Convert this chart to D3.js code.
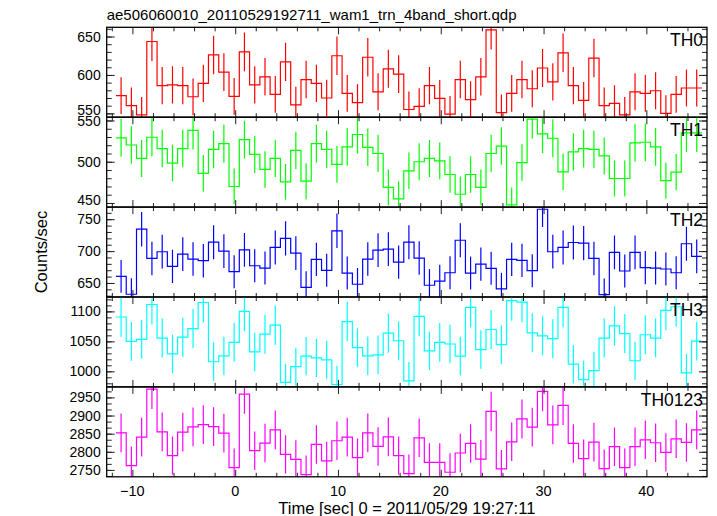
<!DOCTYPE html>
<html><head><meta charset="utf-8">
<script src="https://cdn.jsdelivr.net/npm/d3@7"></script>
<style>
body{margin:0;background:#fff;}
text{font-family:"Liberation Sans",Arial,Helvetica,sans-serif;fill:#000;}
</style></head>
<body><svg id="c" width="717" height="516"></svg>
<script>
// ---- data ----
const title = "ae506060010_20110529192711_wam1_trn_4band_short.qdp";
const xLabel = "Time [sec] 0 = 2011/05/29 19:27:11";
const yLabel = "Counts/sec";
const binStart = -11.1;   // centre of first 1-s bin
const binWidth = 1;
const xTicks = [-10, 0, 10, 20, 30, 40];
const panelNames = ["TH0", "TH1", "TH2", "TH3", "TH0123"];
const panelColors = ["#ff0000", "#00ff00", "#0000ff", "#00ffff", "#ff00ff"];
const th0 = [573,560,548,643.5,586,587,586,571.6,589,626,603.7,572,630,587,597.6,574.7,617,561,594,589,570,625,576,564,623,578,608,601,
  555,559,586,569.5,549,594,568,597.6,658.7,551,576,594,582,609,591,628.8,586,567,622,560,563,548,578,576,579.4,550,574.7,583,583];
const th1 = [528.9,520.3,504,529.7,516,498.4,516,538,486,515,522,470,526.8,509,490.7,504,475.6,513.8,476.4,522,515,496.7,518,533,517.5,510,469,455,
  489,500,504,501,484.5,460.6,484.5,469,510,519,447.6,499,551.6,533.7,528.5,487.8,512,516,515,507,479.7,479.7,522.8,523.6,518,477,487.4,535,535];
const th2 = [660.4,632.3,734.4,688.5,699,676,695.3,687.5,684.9,714,700,667.7,702,677,673.4,705.7,719.8,696.9,643,687,669.8,731.8,665.6,648,687.5,701.6,703,682.8,
  714,689,646.4,653,666,717,665.6,679.7,673,640.6,687,685.4,669.3,765.6,699,705.7,713.5,712.5,688.5,631.8,698,668.8,698,674,673.4,671.9,666,711.5,691.7];
const th3 = [1090.6,1050,1053.3,1111.5,1055.5,1029,1057,1071.4,1114.8,1016,1025.8,1048.4,1100,1032.4,1062,1077,981.4,1007.7,1025.3,1022.5,1019.2,978,1083,1039.6,1025.8,1027.5,1063.7,1051,
  984,1091.7,1034,1048.4,1045.6,1025.3,1106.6,1036.3,1069.8,1044.5,1118,1115.3,1064.3,1059.3,1054.4,1106.6,1012,986.3,1001,1055.5,1075.8,1063,1017.6,1061,1055.5,1101.6,1107.7,997.3,1050.5];
const th0123 = [2852.3,2761.9,2840.4,2972.8,2855,2789.3,2854,2868.7,2875,2869.6,2851.4,2756.4,2959,2803,2824,2860.5,2793,2779.2,2737.2,2820.3,2774.7,2830.4,2840.4,2783.8,2852.3,2814.8,2841.3,2789.3,
  2740,2838.6,2771,2771,2743.6,2796.6,2823,2780,2911.6,2752.7,2827.6,2890.6,2867.8,2966.4,2874.2,2928,2823,2781,2826.7,2753.7,2814,2756.4,2814,2833,2824.9,2798.4,2835.8,2825.8,2860.5];
const yDomains = [[545,662],[445,554],[628,769],[974,1124],[2731,2979]];
const yTicks0 = [550,600,650];
const yTicks1 = [450,500,550];
const yTicks2 = [650,700,750];
const yTicks3 = [1000,1050,1100];
const yTicks4 = [2750,2800,2850,2900,2950];
const yMinorStep = [10,10,10,10,50/3];
const series = [th0, th1, th2, th3, th0123];
const yTicks = [yTicks0, yTicks1, yTicks2, yTicks3, yTicks4];

// ---- layout ----
const L = 106.7, R = 707, T = 27.3, PH = 89.9;
const svg = d3.select("#c");
const x = d3.scaleLinear().domain([-12.5, 45.9]).range([L, R]);

svg.append("text").attr("x", L).attr("y", 20).attr("font-size", 15).text(title);

series.forEach((vals, p) => {
  const top = T + p * PH, bot = top + PH;
  const y = d3.scaleLinear().domain(yDomains[p]).range([bot, top]);
  const col = panelColors[p];
  const g = svg.append("g");
  const cid = "clip" + p;
  svg.append("clipPath").attr("id", cid).append("rect")
    .attr("x", L).attr("y", top).attr("width", R - L).attr("height", PH);
  const dg = g.append("g").attr("clip-path", `url(#${cid})`);
  const bins = vals.map((v, i) => ({t: binStart + i * binWidth, v, e: Math.sqrt(v * binWidth) / binWidth}));
  const pts = [];
  bins.forEach(b => { pts.push([b.t - binWidth / 2, b.v]); pts.push([b.t + binWidth / 2, b.v]); });
  dg.append("path").attr("d", d3.line().x(d => x(d[0])).y(d => y(d[1]))(pts))
    .attr("fill", "none").attr("stroke", col).attr("stroke-width", 1.2);
  dg.selectAll("line.err").data(bins).join("line").attr("class", "err")
    .attr("x1", d => x(d.t)).attr("x2", d => x(d.t))
    .attr("y1", d => y(d.v - d.e)).attr("y2", d => y(d.v + d.e))
    .attr("stroke", col).attr("stroke-width", 1.2);

  // y axes (left labelled, right ticks only), ticks inward
  const ax = g.append("g");
  const minors = d3.range(yDomains[p][0] - 200, yDomains[p][1] + 200, yMinorStep[p])
    .map(v => Math.round((yTicks[p][0] + Math.round((v - yTicks[p][0]) / yMinorStep[p]) * yMinorStep[p]) * 1000) / 1000)
    .filter(v => v > yDomains[p][0] && v < yDomains[p][1]);
  const ya = d3.axisRight(y).tickValues(yTicks[p]).tickSize(8).tickFormat("");
  const ym = d3.axisRight(y).tickValues(minors).tickSize(5).tickFormat("");
  ax.append("g").attr("transform", `translate(${L},0)`).call(ym).call(s => s.select(".domain").remove());
  ax.append("g").attr("transform", `translate(${L},0)`).call(ya).call(s => s.select(".domain").remove());
  ax.append("g").attr("transform", `translate(${R},0)`).call(d3.axisLeft(y).tickValues(minors).tickSize(5).tickFormat("")).call(s => s.select(".domain").remove());
  ax.append("g").attr("transform", `translate(${R},0)`).call(d3.axisLeft(y).tickValues(yTicks[p]).tickSize(8).tickFormat("")).call(s => s.select(".domain").remove());
  ax.selectAll("line").attr("stroke", "#222");
  g.selectAll("text.yl").data(yTicks[p]).join("text").attr("class", "yl")
    .attr("x", L - 6).attr("y", d => Math.min(y(d), bot - 7)).attr("dy", "0.36em")
    .attr("text-anchor", "end").attr("font-size", 14).text(d => d);

  // x ticks on top and bottom of panel
  const xMinor = d3.range(-12, 46, 2).filter(v => v % 10 !== 0);
  [[top, d3.axisBottom], [bot, d3.axisTop]].forEach(([yy, fn]) => {
    const a = g.append("g").attr("transform", `translate(0,${yy})`);
    a.call(fn(x).tickValues(xMinor).tickSize(4).tickFormat("")).call(s => s.select(".domain").remove());
    const b = g.append("g").attr("transform", `translate(0,${yy})`);
    b.call(fn(x).tickValues(xTicks).tickSize(7).tickFormat("")).call(s => s.select(".domain").remove());
    a.selectAll("line").attr("stroke", "#222");
    b.selectAll("line").attr("stroke", "#222");
  });
  g.append("rect").attr("x", L).attr("y", top).attr("width", R - L).attr("height", PH)
    .attr("fill", "none").attr("stroke", "#000").attr("stroke-width", 1.3);
  g.append("text").attr("x", R - 4).attr("y", top + 19).attr("text-anchor", "end")
    .attr("font-size", 17.5).text(panelNames[p]);
});

// bottom x labels
const bottom = T + 5 * PH;
svg.selectAll("text.xl").data(xTicks).join("text").attr("class", "xl")
  .attr("x", d => x(d)).attr("y", bottom + 19).attr("text-anchor", "middle")
  .attr("font-size", 14.5).text(d => d < 0 ? "\u2212" + Math.abs(d) : d);
svg.append("text").attr("x", (L + R) / 2).attr("y", bottom + 37).attr("text-anchor", "middle")
  .attr("font-size", 16.5).text(xLabel);
svg.append("text").attr("transform", `translate(47,${T + 2.5 * PH}) rotate(-90)`)
  .attr("text-anchor", "middle").attr("font-size", 16.5).text(yLabel);
</script></body></html>
